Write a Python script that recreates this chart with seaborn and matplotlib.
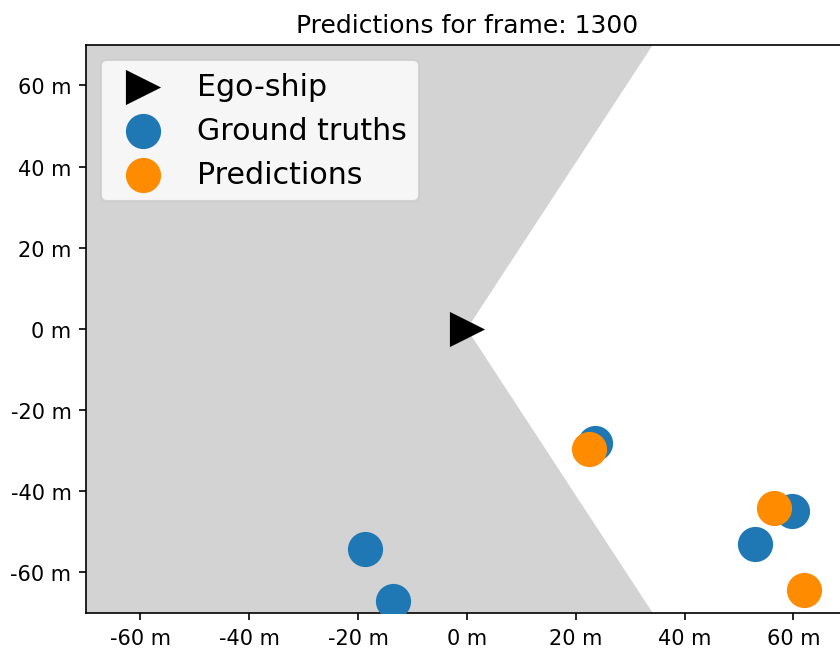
import numpy as np
import pandas as pd
import matplotlib
matplotlib.use("Agg")
import matplotlib.pyplot as plt
from matplotlib.ticker import FuncFormatter
import seaborn as sns

frame = 1300

# ego ship and camera field of view (white area is the visible sector)
ego_x = [0.0]
ego_y = [0.0]
fov_deg = 128.0
view_range = 200.0

# ground truth targets (m)
gt_x = [23.5, -18.7, -13.5, 52.9, 59.8]
gt_y = [-28.0, -54.2, -67.0, -53.0, -44.8]

# predicted targets (m)
pred_x = [22.4, 56.4, 61.9]
pred_y = [-29.5, -44.0, -64.4]

ticks = [-60, -40, -20, 0, 20, 40, 60]

gt = pd.DataFrame({"x": gt_x, "y": gt_y})
pred = pd.DataFrame({"x": pred_x, "y": pred_y})
ego = pd.DataFrame({"x": ego_x, "y": ego_y})

fig = plt.figure(figsize=(5.6, 4.3533), dpi=150)
ax = fig.add_axes([0.1024, 0.0597, 0.907, 0.870])

# shaded area outside the field of view
half = np.deg2rad(fov_deg / 2)
ux, uy = np.cos(half), np.sin(half)
poly_x = [ego_x[0], ego_x[0] + ux * view_range, -view_range, -view_range, ego_x[0] + ux * view_range]
poly_y = [ego_y[0], ego_y[0] + uy * view_range, view_range, -view_range, ego_y[0] - uy * view_range]
ax.fill(poly_x, poly_y, color="lightgray", zorder=0, linewidth=0)

size = 285
sns.scatterplot(data=ego, x="x", y="y", marker=">", s=size, color="black",
                linewidth=0, label="Ego-ship", ax=ax, zorder=3)
sns.scatterplot(data=gt, x="x", y="y", s=size, color="#1f77b4",
                linewidth=0, label="Ground truths", ax=ax, zorder=3)
sns.scatterplot(data=pred, x="x", y="y", s=size, color="darkorange",
                linewidth=0, label="Predictions", ax=ax, zorder=4)

ax.set_xlim(-70, 70)
ax.set_ylim(-70, 70)
ax.set_xticks(ticks)
ax.set_yticks(ticks)
fmt = FuncFormatter(lambda v, p: "%d m" % v)
ax.xaxis.set_major_formatter(fmt)
ax.yaxis.set_major_formatter(fmt)
ax.set_xlabel("")
ax.set_ylabel("")
ax.set_title("Predictions for frame: %d" % frame)

ax.legend(loc="upper left", fontsize="x-large")

plt.savefig("out.png", dpi=150)
